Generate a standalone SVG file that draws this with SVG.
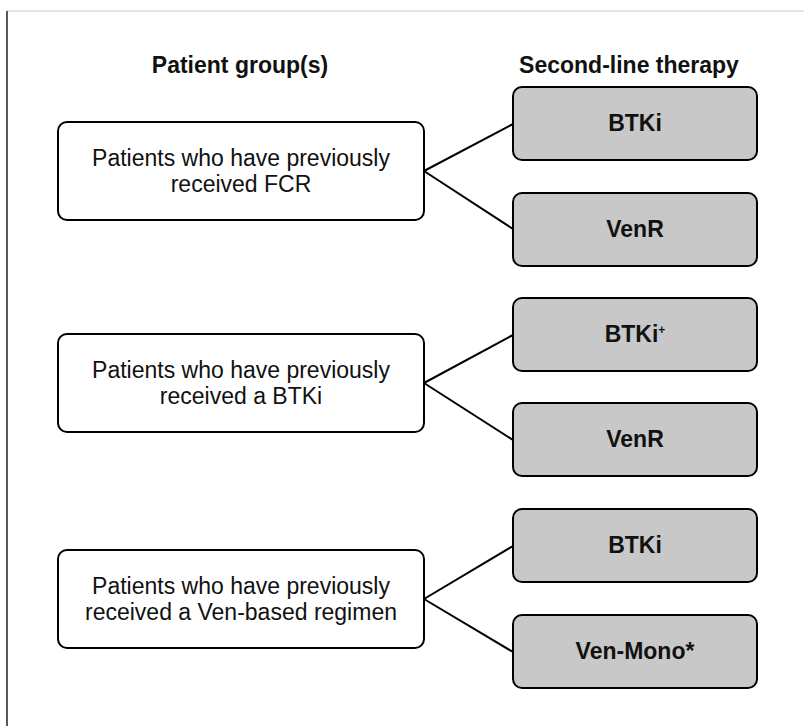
<svg xmlns="http://www.w3.org/2000/svg" width="804" height="726" viewBox="0 0 804 726">
<style>
.lbox{fill:#ffffff;stroke:#000;stroke-width:2}
.rbox{fill:#c8c8c8;stroke:#000;stroke-width:2}
.t{font-family:"Liberation Sans",Arial,sans-serif;font-size:23px;fill:#111;text-anchor:middle}
.b{font-family:"Liberation Sans",Arial,sans-serif;font-size:23px;font-weight:bold;fill:#111;text-anchor:middle}
.c{stroke:#000;stroke-width:2;fill:none}
</style>
<rect width="804" height="726" fill="#fff"/>
<line x1="7" y1="11" x2="804" y2="11" stroke="#dcdcdc" stroke-width="1.5"/>
<line x1="7" y1="11" x2="7" y2="726" stroke="#222" stroke-width="1.5"/>
<g id="headers">
<text class="b" x="240" y="73">Patient group(s)</text>
<text class="b" x="629" y="73">Second-line therapy</text>
</g>
<g id="connectors">
<line class="c" x1="424" y1="171" x2="513" y2="124"/>
<line class="c" x1="424" y1="171" x2="513" y2="229"/>
<line class="c" x1="424" y1="383" x2="513" y2="335"/>
<line class="c" x1="424" y1="383" x2="513" y2="440"/>
<line class="c" x1="424" y1="599" x2="513" y2="546"/>
<line class="c" x1="424" y1="599" x2="513" y2="652"/>
</g>
<g id="group1">
<rect class="lbox" x="58" y="122" width="366" height="98" rx="9"/>
<text class="t" x="241" y="166">Patients who have previously</text>
<text class="t" x="241" y="192">received FCR</text>
</g>
<g id="group2">
<rect class="lbox" x="58" y="334" width="366" height="98" rx="9"/>
<text class="t" x="241" y="378">Patients who have previously</text>
<text class="t" x="241" y="404">received a BTKi</text>
</g>
<g id="group3">
<rect class="lbox" x="58" y="550" width="366" height="98" rx="9"/>
<text class="t" x="241" y="594">Patients who have previously</text>
<text class="t" x="241" y="620">received a Ven-based regimen</text>
</g>
<g id="therapy1">
<rect class="rbox" x="513" y="87" width="244" height="73" rx="9"/>
<text class="b" x="635" y="131">BTKi</text>
</g>
<g id="therapy2">
<rect class="rbox" x="513" y="193" width="244" height="73" rx="9"/>
<text class="b" x="635" y="237">VenR</text>
</g>
<g id="therapy3">
<rect class="rbox" x="513" y="298" width="244" height="73" rx="9"/>
<text class="b" x="635" y="342">BTKi<tspan font-size="12" dy="-8">+</tspan></text>
</g>
<g id="therapy4">
<rect class="rbox" x="513" y="403" width="244" height="73" rx="9"/>
<text class="b" x="635" y="447">VenR</text>
</g>
<g id="therapy5">
<rect class="rbox" x="513" y="509" width="244" height="73" rx="9"/>
<text class="b" x="635" y="553">BTKi</text>
</g>
<g id="therapy6">
<rect class="rbox" x="513" y="615" width="244" height="73" rx="9"/>
<text class="b" x="635" y="659">Ven-Mono*</text>
</g>
</svg>
